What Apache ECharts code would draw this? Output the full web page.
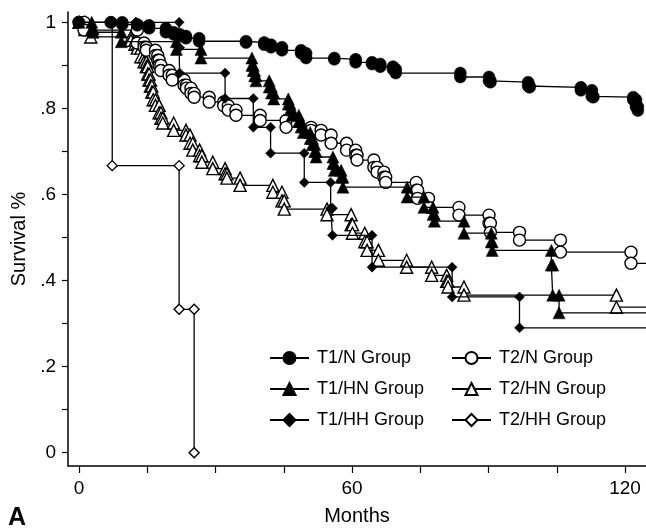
<!DOCTYPE html>
<html>
<head>
<meta charset="utf-8">
<script src="https://cdn.jsdelivr.net/npm/echarts@6/dist/echarts.min.js"></script>
<style>
html,body{margin:0;padding:0;background:#fff;}
#chart{width:646px;height:528px;}
</style>
</head>
<body>
<div id="chart"></div>
<script>
// ---- data (months, survival proportion after each step) ----
const groupNames = ['T1/N Group','T2/N Group','T1/HN Group','T2/HN Group','T1/HH Group','T2/HH Group'];

const t1nTime = [7.0, 9.5, 12.8, 15.4, 19.1, 20.8, 22.2, 23.5, 26.4, 36.7, 40.7, 42.2, 44.6, 48.8, 49.9, 56.1, 60.8, 64.4, 66.2, 69.0, 69.6, 83.8, 90.1, 90.4, 98.7, 99.0, 110.3, 112.7, 113.0, 121.8, 122.4, 122.8];
const t1nSurv = [1, .995, .993, .986, .977, .972, .968, .963, .956, .953, .948, .942, .935, .928, .917, .914, .907, .903, .897, .891, .882, .873, .864, .861, .852, .849, .842, .828, .826, .82, .804, .795];

const t2nTime = [1.1, 12.8, 14.3, 14.8, 16.8, 17.3, 17.6, 18.0, 19.8, 20.5, 23.1, 23.6, 24.6, 25.3, 28.6, 31.8, 32.8, 34.5, 39.8, 45.5, 51.0, 53.2, 55.4, 58.8, 60.8, 61.1, 64.8, 65.5, 67.0, 67.4, 74.1, 74.4, 76.8, 83.5, 90.1, 90.4, 96.8, 105.8, 121.3];
const t2nSurv = [.982, .952, .942, .935, .923, .912, .900, .888, .877, .866, .854, .847, .835, .826, .815, .806, .796, .784, .772, .756, .749, .738, .719, .703, .691, .680, .663, .652, .640, .628, .610, .591, .570, .552, .533, .512, .494, .466, .440];

const t1hnTime = [2.8, 3.1, 9.3, 21.4, 26.8, 38.0, 38.3, 38.6, 38.9, 41.8, 42.3, 42.8, 46.0, 46.4, 46.8, 48.3, 48.8, 49.3, 50.8, 51.3, 51.8, 52.1, 55.8, 56.1, 57.6, 58.0, 72.1, 75.8, 77.8, 78.1, 84.6, 90.6, 90.8, 103.8, 104.1, 105.5];
const t1hnSurv = [.985, .977, .955, .937, .917, .90, .888, .876, .864, .85, .836, .822, .81, .797, .784, .77, .757, .744, .73, .716, .70, .687, .672, .656, .64, .617, .594, .57, .554, .538, .51, .49, .47, .436, .366, .325];

const t2hnTime = [1.3, 2.6, 11.4, 12.3, 12.8, 13.6, 14.3, 14.8, 15.1, 15.4, 15.7, 16.0, 16.3, 16.8, 17.6, 18.0, 18.4, 20.8, 23.5, 24.4, 25.0, 26.5, 27.0, 29.4, 32.1, 32.5, 35.4, 42.6, 44.6, 45.1, 54.5, 59.8, 60.1, 62.8, 63.3, 65.8, 72.0, 77.5, 80.8, 81.1, 84.6, 118.1];
const t2hnSurv = [.983, .966, .958, .949, .94, .92, .908, .897, .88, .866, .852, .838, .82, .807, .79, .777, .766, .749, .738, .719, .703, .69, .675, .66, .648, .638, .621, .605, .585, .566, .553, .53, .51, .49, .47, .447, .431, .412, .398, .385, .366, .338];

const t1hhTime = [12.5, 22.0, 22.1, 32.1, 38.3, 42.1, 49.5, 55.3, 55.7, 64.4, 82.0, 96.8];
const t1hhSurv = [1, .941, .882, .823, .756, .696, .628, .568, .505, .431, .362, .29];

const t2hhTime = [7.3, 22.0, 25.3];
const t2hhSurv = [.667, .333, 0];

const xTickValues = [0, 15, 30, 45, 60, 75, 90, 105, 120];
const xLabelValues = [0, 60, 120];
const yTickValues = [0, .1, .2, .3, .4, .5, .6, .7, .8, .9, 1];
const yLabelValues = [0, .2, .4, .6, .8, 1];

// ---- layout ----
const X_MIN = -2.42, X_MAX = 124.6;
const Y_MIN = -0.031, Y_MAX = 1.024;
const FONT = '"Liberation Sans", Arial, Helvetica, sans-serif';

function steps(times, surv, tail) {
  const pts = [[0, 1]];
  let prev = 1;
  times.forEach((t, i) => {
    pts.push([t, prev]);
    pts.push([t, surv[i]]);
    prev = surv[i];
  });
  if (tail) pts.push({ value: [X_MAX, prev], symbol: 'none' });
  return pts;
}

function mkSeries(name, times, surv, tail, symbol, size, filled, z) {
  return {
    name: name,
    type: 'line',
    data: steps(times, surv, tail),
    symbol: symbol,
    symbolSize: size,
    showAllSymbol: true,
    clip: true,
    z: z,
    lineStyle: { color: '#000', width: 1.3 },
    itemStyle: filled
      ? { color: '#000', borderColor: '#000', borderWidth: 0.5 }
      : { color: '#fff', borderColor: '#000', borderWidth: 1.4 },
    emphasis: { disabled: true },
    animation: false
  };
}

const series = [
  mkSeries('T2/HH Group', t2hhTime, t2hhSurv, false, 'diamond', 10, false, 2),
  mkSeries('T2/HN Group', t2hnTime, t2hnSurv, true, 'triangle', 12, false, 3),
  mkSeries('T2/N Group', t2nTime, t2nSurv, true, 'circle', 12, false, 4),
  mkSeries('T1/HH Group', t1hhTime, t1hhSurv, true, 'diamond', 10, true, 5),
  mkSeries('T1/HN Group', t1hnTime, t1hnSurv, true, 'triangle', 12, true, 6),
  mkSeries('T1/N Group', t1nTime, t1nSurv, false, 'circle', 12, true, 7)
];

const legendBase = {
  orient: 'vertical',
  top: 349,
  padding: 0,
  itemWidth: 39,
  itemHeight: 15,
  itemGap: 13,
  selectedMode: false,
  textStyle: { fontSize: 18, color: '#000', fontFamily: FONT, padding: [0, 0, 0, 3] }
};

const option = {
  animation: false,
  backgroundColor: '#fff',
  grid: { left: 68, right: 0, top: 12, bottom: 62, containLabel: false, outerBoundsMode: 'none' },
  legend: [
    Object.assign({}, legendBase, { left: 269, data: [groupNames[0], groupNames[2], groupNames[4]] }),
    Object.assign({}, legendBase, { left: 451, data: [groupNames[1], groupNames[3], groupNames[5]] })
  ],
  xAxis: {
    type: 'value',
    min: X_MIN, max: X_MAX,
    name: 'Months',
    nameLocation: 'middle',
    nameGap: 40,
    nameTextStyle: { fontSize: 20, color: '#000', fontFamily: FONT },
    axisLine: { onZero: false, lineStyle: { color: '#000', width: 1.5 } },
    axisTick: { show: true, length: 7, customValues: xTickValues, lineStyle: { color: '#000', width: 1.2 } },
    axisLabel: { customValues: xLabelValues, fontSize: 19, color: '#000', fontFamily: FONT, margin: 13 },
    splitLine: { show: false }
  },
  yAxis: {
    type: 'value',
    min: Y_MIN, max: Y_MAX,
    name: 'Survival %',
    nameLocation: 'middle',
    nameGap: 39,
    nameTextStyle: { fontSize: 20, color: '#000', fontFamily: FONT },
    axisLine: { onZero: false, lineStyle: { color: '#000', width: 1.5 } },
    axisTick: { show: true, length: 6, customValues: yTickValues, lineStyle: { color: '#000', width: 1.2 } },
    axisLabel: {
      customValues: yLabelValues, fontSize: 19, color: '#000', fontFamily: FONT, margin: 12,
      formatter: function (v) {
        if (Math.abs(v) < 1e-9) return '0';
        if (Math.abs(v - 1) < 1e-9) return '1';
        return '.' + Math.round(v * 10);
      }
    },
    splitLine: { show: false }
  },
  graphic: [
    { type: 'text', left: 8, top: 506, style: { text: 'A', fontSize: 25, fontWeight: 'bold', fontFamily: FONT, fill: '#000' } }
  ],
  series: series
};

const chart = echarts.init(document.getElementById('chart'), null, { renderer: 'canvas' });
chart.setOption(option);
</script>
</body>
</html>
